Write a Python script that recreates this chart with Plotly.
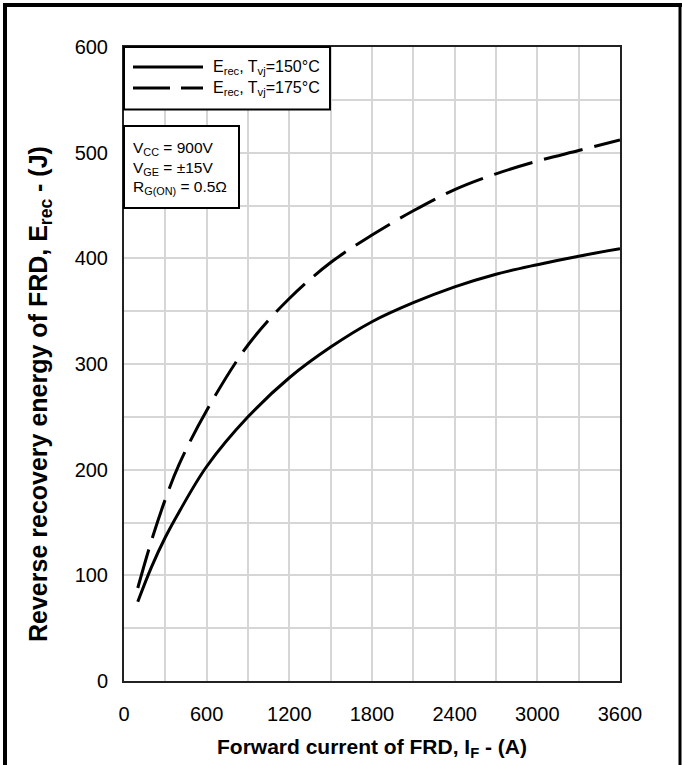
import plotly.graph_objects as go

# ---- data ----
current_A = [100, 200, 300, 400, 600, 900, 1200, 1500, 1800, 2100, 2400, 2700, 3000, 3300, 3600]
erec_150 = [75, 108, 136, 160, 203, 250, 287, 316, 340, 358, 373, 385, 394, 402, 409]
erec_175 = [88, 133, 172, 205, 256, 318, 362, 396, 422, 445, 465, 480, 492, 502, 512]
x_ticks = [0, 600, 1200, 1800, 2400, 3000, 3600]
y_ticks = [0, 100, 200, 300, 400, 500, 600]
series_names = ["E<sub>rec</sub>, T<sub>vj</sub>=150°C", "E<sub>rec</sub>, T<sub>vj</sub>=175°C"]
cond_lines = ["V<sub>CC</sub> = 900V", "V<sub>GE</sub> = ±15V", "R<sub>G(ON)</sub> = 0.5Ω"]

W, H = 682, 765
L, R, T, B = 124, 620, 47, 681
FONT = "Liberation Sans, Arial, sans-serif"


def px(x):
    return (x - L) / (R - L)


def py(y):
    return (B - y) / (B - T)


fig = go.Figure()
fig.add_trace(go.Scatter(x=current_A, y=erec_150, mode="lines", name=series_names[0],
                         line=dict(color="black", width=3, shape="spline", smoothing=1.0)))
fig.add_trace(go.Scatter(x=current_A, y=erec_175, mode="lines", name=series_names[1],
                         line=dict(color="black", width=3, dash="40px,12px", shape="spline", smoothing=1.0)))

shapes = []
# legend box
shapes.append(dict(type="rect", xref="paper", yref="paper", x0=px(L), x1=px(330), y0=py(109.5), y1=py(T),
                   line=dict(color="black", width=2), fillcolor="white", layer="above"))
# legend line samples
shapes.append(dict(type="line", xref="paper", yref="paper", x0=px(133), x1=px(203), y0=py(67), y1=py(67),
                   line=dict(color="black", width=3), layer="above"))
shapes.append(dict(type="line", xref="paper", yref="paper", x0=px(133), x1=px(203), y0=py(88), y1=py(88),
                   line=dict(color="black", width=3, dash="37px,11px"), layer="above"))
# conditions box
shapes.append(dict(type="rect", xref="paper", yref="paper", x0=px(L), x1=px(239), y0=py(208), y1=py(126),
                   line=dict(color="black", width=2), fillcolor="white", layer="above"))
# outer image frame (left, top, right)
shapes.append(dict(type="line", xref="paper", yref="paper", x0=px(5), x1=px(5), y0=py(H + 5), y1=py(3),
                   line=dict(color="black", width=4), layer="above"))
shapes.append(dict(type="line", xref="paper", yref="paper", x0=px(3), x1=px(682), y0=py(5), y1=py(5),
                   line=dict(color="black", width=4), layer="above"))
shapes.append(dict(type="line", xref="paper", yref="paper", x0=px(680), x1=px(680), y0=py(H + 5), y1=py(3),
                   line=dict(color="black", width=3), layer="above"))

annotations = []
for name, yy in zip(series_names, [67, 88]):
    annotations.append(dict(xref="paper", yref="paper", x=px(211), y=py(yy), xanchor="left", yanchor="middle",
                            text=name, showarrow=False, font=dict(family=FONT, size=16, color="black")))
for line, yy in zip(cond_lines, [148, 168, 188]):
    annotations.append(dict(xref="paper", yref="paper", x=px(131), y=py(yy), xanchor="left", yanchor="middle",
                            text=line, showarrow=False, font=dict(family=FONT, size=15.5, color="black")))
# axis titles
annotations.append(dict(xref="paper", yref="paper", x=0.5, y=py(748), xanchor="center", yanchor="middle",
                        text="<b>Forward current of FRD, I<sub>F</sub> - (A)</b>", showarrow=False,
                        font=dict(family=FONT, size=21, color="black")))
annotations.append(dict(xref="paper", yref="paper", x=px(40), y=py(394), xanchor="center", yanchor="middle",
                        textangle=-90, text="<b>Reverse recovery energy of FRD, E<sub>rec</sub> - (J)</b>",
                        showarrow=False, font=dict(family=FONT, size=25, color="black")))

grid_color = "#d6d6d6"
fig.update_layout(
    width=W, height=H,
    margin=dict(l=L, r=W - R, t=T, b=H - B, autoexpand=False),
    paper_bgcolor="white", plot_bgcolor="white",
    showlegend=False,
    shapes=shapes, annotations=annotations,
    font=dict(family=FONT, color="black"),
    xaxis=dict(range=[0, 3600], tickvals=x_ticks, ticktext=[str(v) for v in x_ticks],
               showgrid=True, gridcolor=grid_color, gridwidth=2,
               minor=dict(dtick=300, showgrid=True, gridcolor=grid_color, gridwidth=2),
               showline=True, linecolor="#222", linewidth=2, mirror=True, zeroline=False,
               ticks="", ticklabelstandoff=14, tickfont=dict(family=FONT, size=20, color="black")),
    yaxis=dict(range=[0, 600], tickvals=y_ticks, ticktext=[str(v) for v in y_ticks],
               showgrid=True, gridcolor=grid_color, gridwidth=2,
               minor=dict(dtick=50, showgrid=True, gridcolor=grid_color, gridwidth=2),
               showline=True, linecolor="#222", linewidth=2, mirror=True, zeroline=False,
               ticks="", ticklabelstandoff=10, tickfont=dict(family=FONT, size=20, color="black")),
)

fig.write_html("out.html")
